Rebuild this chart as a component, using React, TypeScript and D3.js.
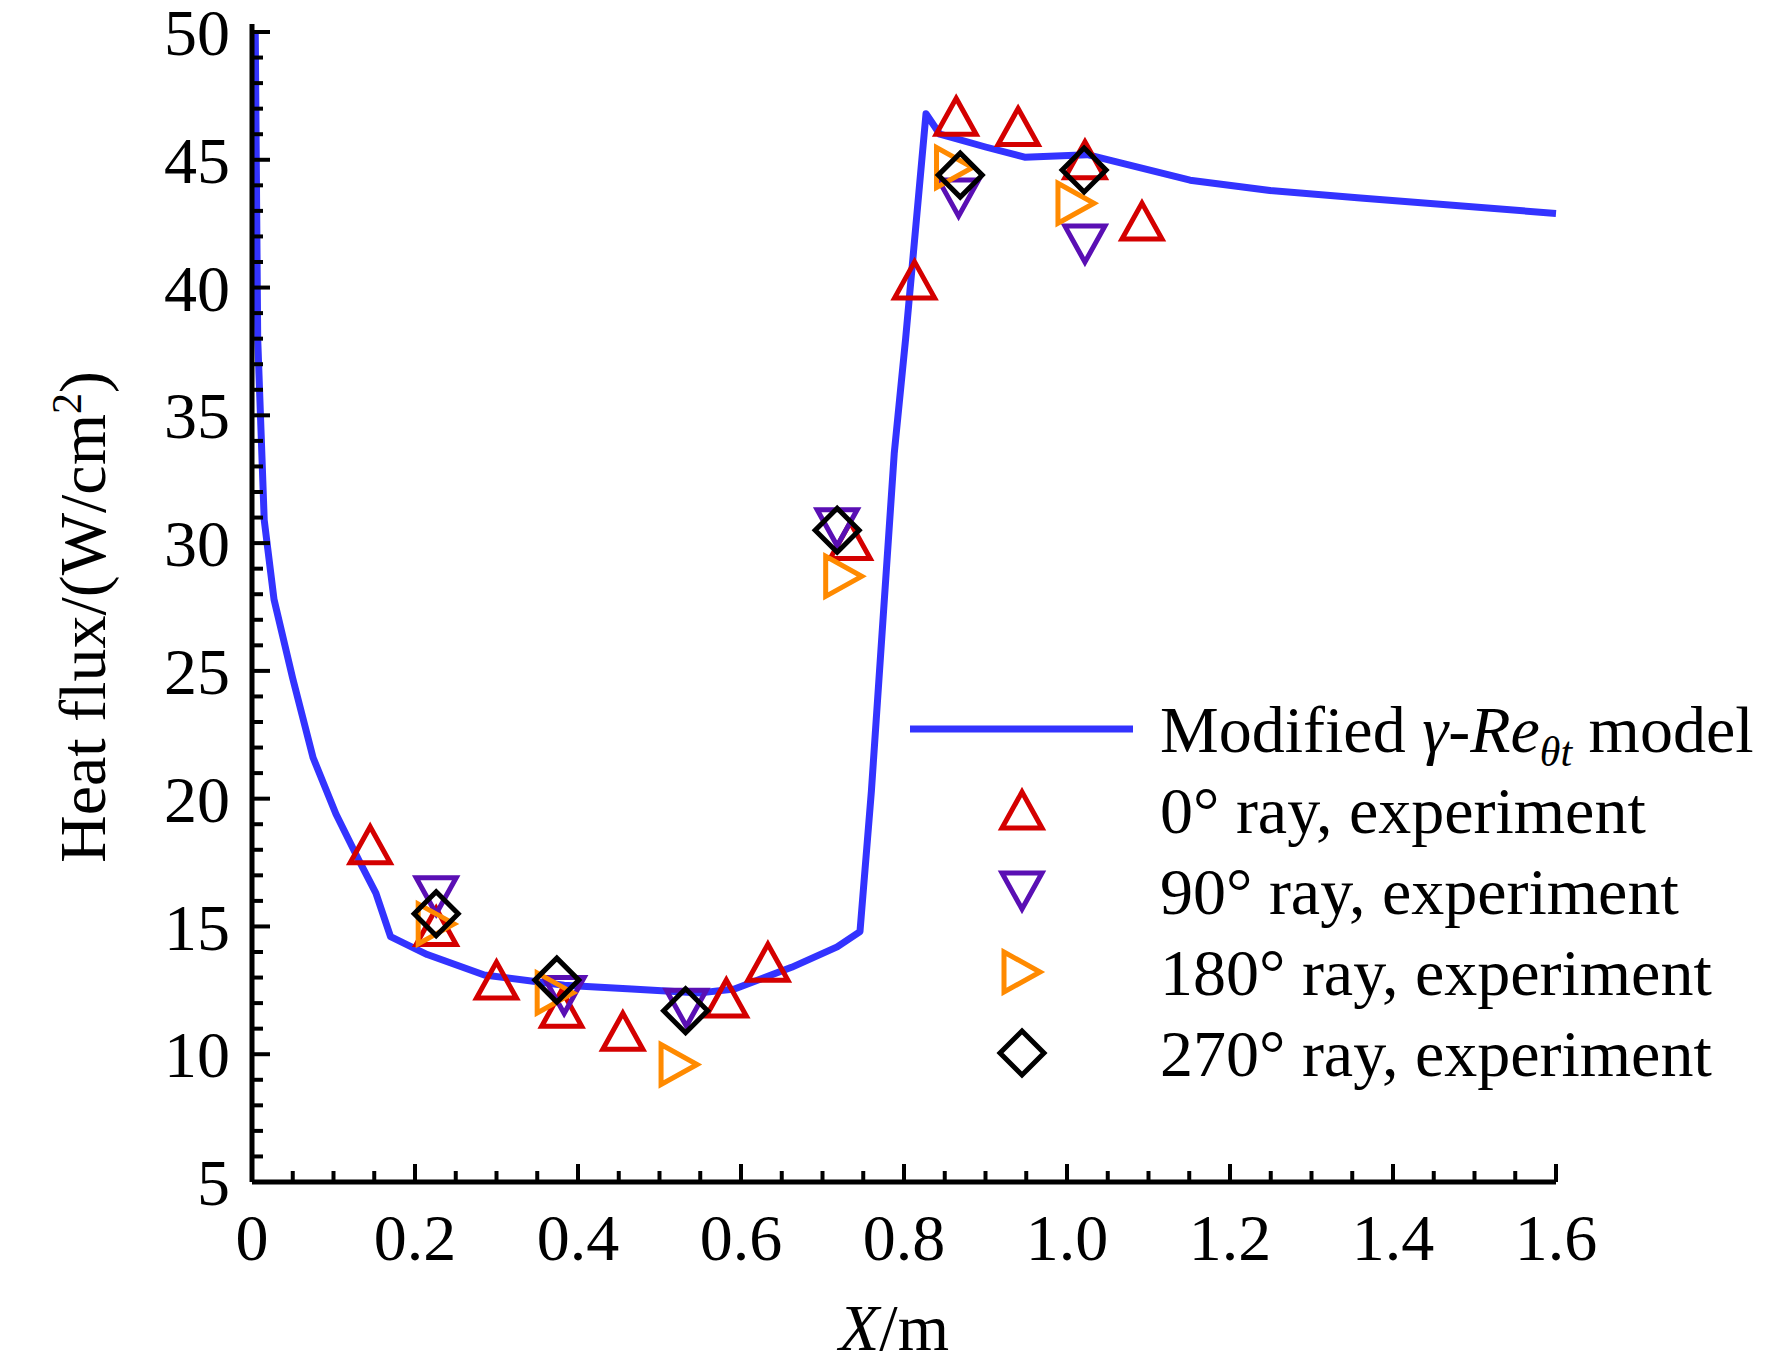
import * as d3 from "d3";
import { useEffect, useRef } from "react";

// model curve
const lineX = [0.004, 0.007, 0.015, 0.027, 0.05, 0.075, 0.103, 0.131, 0.152, 0.17, 0.215, 0.285, 0.383, 0.466, 0.55, 0.592, 0.662, 0.718, 0.746, 0.76, 0.788, 0.802, 0.827, 0.844, 0.9, 0.948, 1.025, 1.151, 1.249, 1.36, 1.6];
const lineY = [50, 38, 30.9, 27.8, 24.7, 21.6, 19.4, 17.6, 16.3, 14.6, 13.9, 13.1, 12.7, 12.55, 12.4, 12.55, 13.4, 14.2, 14.8, 20.3, 33.5, 38, 46.8, 46, 45.5, 45.1, 45.2, 44.2, 43.8, 43.5, 42.9];

const ray0X = [0.145, 0.226, 0.3, 0.38, 0.455, 0.582, 0.633, 0.734, 0.813, 0.864, 0.94, 1.022, 1.092];
const ray0Y = [18.2, 15.0, 12.9, 11.8, 10.9, 12.2, 13.6, 30.1, 40.3, 46.7, 46.3, 45.0, 42.6];
const ray90X = [0.226, 0.383, 0.533, 0.718, 0.867, 1.022];
const ray90Y = [16.2, 12.3, 11.8, 30.6, 43.5, 41.7];
const ray180X = [0.226, 0.372, 0.524, 0.726, 0.862, 1.011];
const ray180Y = [15.1, 12.4, 9.6, 28.7, 44.7, 43.3];
const ray270X = [0.226, 0.374, 0.532, 0.718, 0.869, 1.021];
const ray270Y = [15.5, 12.9, 11.7, 30.5, 44.4, 44.6];

const xTicks = [0, 0.2, 0.4, 0.6, 0.8, 1.0, 1.2, 1.4, 1.6];
const yTicks = [5, 10, 15, 20, 25, 30, 35, 40, 45, 50];
const legendLabels = ["0° ray, experiment", "90° ray, experiment", "180° ray, experiment", "270° ray, experiment"];

type Kind = "up" | "down" | "right" | "diamond";
const series: { xs: number[]; ys: number[]; kind: Kind; color: string }[] = [
  { xs: ray0X, ys: ray0Y, kind: "up", color: "#d40000" },
  { xs: ray90X, ys: ray90Y, kind: "down", color: "#5a0fb4" },
  { xs: ray180X, ys: ray180Y, kind: "right", color: "#ff8a00" },
  { xs: ray270X, ys: ray270Y, kind: "diamond", color: "#000000" },
];

function markerPath(kind: Kind, r: number) {
  const h = r * 0.9;
  if (kind === "up") return `M0,${-h}L${r},${h}L${-r},${h}Z`;
  if (kind === "down") return `M0,${h}L${r},${-h}L${-r},${-h}Z`;
  if (kind === "right") return `M${h},0L${-h},${r}L${-h},${-r}Z`;
  return `M0,${-r * 1.1}L${r * 1.1},0L0,${r * 1.1}L${-r * 1.1},0Z`;
}

export default function App() {
  const ref = useRef<SVGSVGElement | null>(null);

  useEffect(() => {
    if (!ref.current) return;
    const svg = d3.select(ref.current);
    svg.selectAll("*").remove();
    const font = "'Liberation Serif', 'Times New Roman', serif";
    const left = 252, right = 1556, top = 32, bottom = 1182;
    const fs = 66;
    const mr = 20;

    const x = d3.scaleLinear().domain([0, 1.6]).range([left, right]);
    const y = d3.scaleLinear().domain([5, 50]).range([bottom, top]);

    const g = svg.append("g");

    // curve
    const line = d3.line<number>().x((_, i) => x(lineX[i])).y((d) => y(d));
    g.append("path").datum(lineY).attr("d", line).attr("fill", "none")
      .attr("stroke", "#3333ff").attr("stroke-width", 7).attr("stroke-linejoin", "round");

    // markers
    for (const s of series) {
      g.selectAll(null).data(s.xs).enter().append("path")
        .attr("transform", (d, i) => `translate(${x(d)},${y(s.ys[i])})`)
        .attr("d", markerPath(s.kind, mr))
        .attr("fill", "none").attr("stroke", s.color).attr("stroke-width", 5);
    }

    // axes
    g.append("line").attr("x1", left).attr("x2", left).attr("y1", top - 8).attr("y2", bottom).attr("stroke", "#000").attr("stroke-width", 5);
    g.append("line").attr("x1", left).attr("x2", right).attr("y1", bottom).attr("y2", bottom).attr("stroke", "#000").attr("stroke-width", 5);

    const yMinor = d3.range(5, 51, 1);
    g.selectAll(null).data(yMinor).enter().append("line")
      .attr("x1", left).attr("x2", (d) => left + (d % 5 === 0 ? 18 : 11))
      .attr("y1", (d) => y(d)).attr("y2", (d) => y(d)).attr("stroke", "#000").attr("stroke-width", 4);
    const xMinor = d3.range(0, 33).map((i) => i * 0.05);
    g.selectAll(null).data(xMinor).enter().append("line")
      .attr("x1", (d) => x(d)).attr("x2", (d) => x(d))
      .attr("y1", bottom).attr("y2", (_, i) => bottom - (i % 4 === 0 ? 18 : 11))
      .attr("stroke", "#000").attr("stroke-width", 4);

    g.selectAll(null).data(yTicks).enter().append("text")
      .attr("x", left - 22).attr("y", (d) => y(d)).attr("dy", "0.35em")
      .attr("text-anchor", "end").attr("font-family", font).attr("font-size", fs).text((d) => d);
    g.selectAll(null).data(xTicks).enter().append("text")
      .attr("x", (d) => x(d)).attr("y", bottom + 78)
      .attr("text-anchor", "middle").attr("font-family", font).attr("font-size", fs)
      .text((d) => (d === 0 ? "0" : d.toFixed(1)));

    // axis titles
    const yl = g.append("text").attr("transform", `translate(105,${(top + bottom) / 2 + 10}) rotate(-90)`)
      .attr("text-anchor", "middle").attr("font-family", font).attr("font-size", fs);
    yl.append("tspan").text("Heat flux/(W/cm");
    yl.append("tspan").attr("dy", -24).attr("font-size", 42).text("2");
    yl.append("tspan").attr("dy", 24).text(")");
    const xl = g.append("text").attr("x", (left + right) / 2 - 10).attr("y", 1350)
      .attr("text-anchor", "middle").attr("font-family", font).attr("font-size", fs);
    xl.append("tspan").attr("font-style", "italic").text("X");
    xl.append("tspan").text("/m");

    // legend
    const ly0 = 729, step = 81;
    g.append("line").attr("x1", 910).attr("x2", 1133).attr("y1", ly0).attr("y2", ly0)
      .attr("stroke", "#3333ff").attr("stroke-width", 7);
    const t0 = g.append("text").attr("x", 1160).attr("y", ly0).attr("dy", "0.35em")
      .attr("font-family", font).attr("font-size", fs);
    t0.append("tspan").text("Modified ");
    t0.append("tspan").attr("font-style", "italic").text("γ");
    t0.append("tspan").text("-");
    t0.append("tspan").attr("font-style", "italic").text("Re");
    t0.append("tspan").attr("font-style", "italic").attr("font-size", 42).attr("dy", 14).text("θt");
    t0.append("tspan").attr("dy", -14).text(" model");
    series.forEach((s, i) => {
      const yy = ly0 + step * (i + 1);
      g.append("path").attr("transform", `translate(1022,${yy})`).attr("d", markerPath(s.kind, mr))
        .attr("fill", "none").attr("stroke", s.color).attr("stroke-width", 5);
      g.append("text").attr("x", 1160).attr("y", yy).attr("dy", "0.35em")
        .attr("font-family", font).attr("font-size", fs).text(legendLabels[i]);
    });
  }, []);

  return (
    <div style={{ position: "absolute", left: 0, top: 0 }}>
      <svg ref={ref} width={1772} height={1370} style={{ display: "block", background: "#fff" }} />
    </div>
  );
}
